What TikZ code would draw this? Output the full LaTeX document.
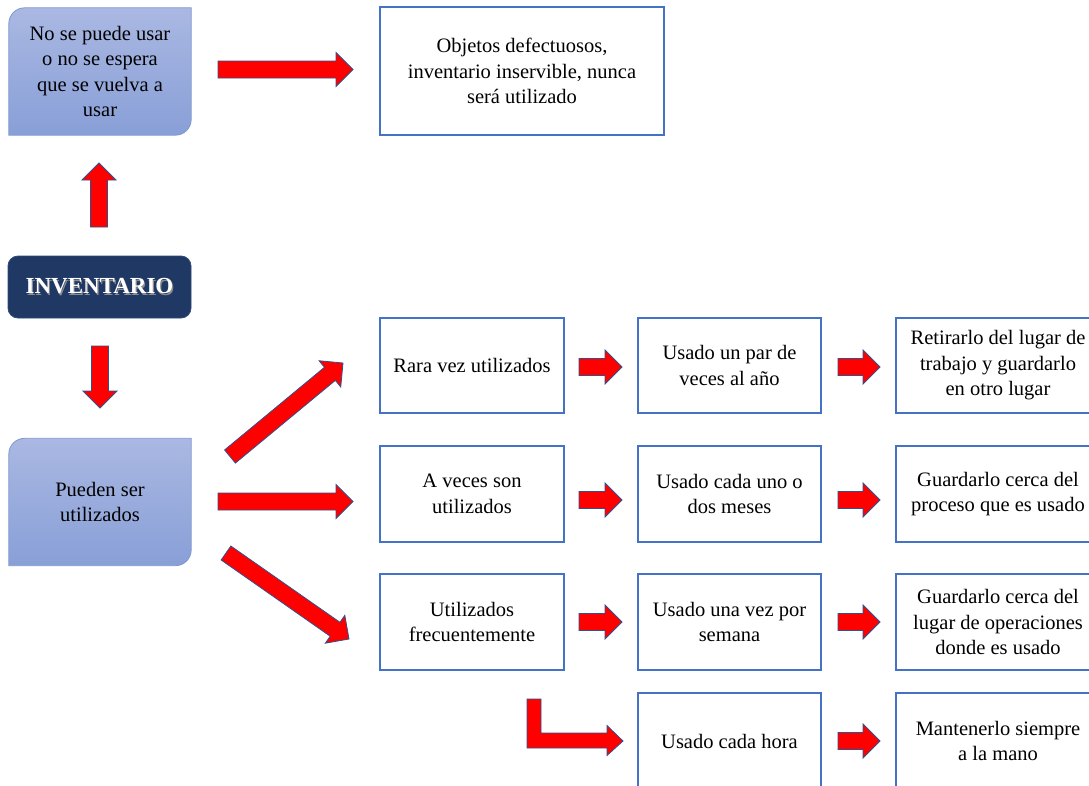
\documentclass[tikz,border=0pt]{standalone}
\usepackage{fontspec}
\setmainfont{Liberation Serif}
\usetikzlibrary{calc,backgrounds}

\definecolor{boxblue}{HTML}{4472C4}
\definecolor{arrowred}{HTML}{FF0000}
\definecolor{arrowedge}{HTML}{2F528F}
\definecolor{navy}{HTML}{203864}
\definecolor{navyedge}{HTML}{2E4A7C}
\definecolor{gradtop}{HTML}{AAB8E2}
\definecolor{gradbot}{HTML}{889FD7}
\definecolor{gradedge}{HTML}{7F98D3}

\newcommand\boxfont{\fontsize{20.5}{25.5}\selectfont}

% block arrow from tail coordinate #1 to tip coordinate #2
\newcommand\blockarrow[2]{%
  \path ($(#2)!17pt!(#1)$) coordinate (ah);
  \draw[redarrow]
    ($(#1)!8.5pt!90:(#2)$) -- ($(ah)!8.5pt!-90:(#1)$) -- ($(ah)!17pt!-90:(#1)$)
    -- (#2) -- ($(ah)!17pt!90:(#1)$) -- ($(ah)!8.5pt!90:(#1)$)
    -- ($(#1)!8.5pt!-90:(#2)$) -- cycle;
}

% soft blue box with two rounded corners (top left, bottom right)
\newcommand\softbox[1]{%
  \shadedraw[top color=gradtop, bottom color=gradbot, draw=gradedge, line width=0.8pt]
    (#1.south west) -- ($(#1.north west)+(0,16)$)
    .. controls ($(#1.north west)+(0,7)$) and ($(#1.north west)+(7,0)$) .. ($(#1.north west)+(16,0)$)
    -- (#1.north east) -- ($(#1.south east)+(0,-16)$)
    .. controls ($(#1.south east)+(0,-7)$) and ($(#1.south east)+(-7,0)$) .. ($(#1.south east)+(-16,0)$)
    -- cycle;
}

\tikzset{
  plainbox/.style={draw=boxblue, line width=1.3pt, fill=white, align=center,
    font=\boxfont, inner sep=0pt, minimum height=96pt},
  col2/.style={plainbox, minimum width=184pt},
  col3/.style={plainbox, minimum width=183pt},
  col4/.style={plainbox, minimum width=204pt},
  softtext/.style={align=center, font=\boxfont, inner sep=0pt,
    minimum width=182pt, minimum height=127pt},
  redarrow/.style={fill=arrowred, draw=arrowedge, line width=0.8pt, line join=miter},
}

\begin{document}
\begin{tikzpicture}[x=1pt, y=-1pt]
\useasboundingbox (0,0) rectangle (1089,785);
\clip (0,0) rectangle (1089,785);

% left column
\node[softtext] (nouse) at (100,71.5) {No se puede usar\\o no se espera\\que se vuelva a\\usar};
\node[softtext] (canuse) at (100,502) {Pueden ser\\utilizados};
\begin{scope}[on background layer]
  \fill[white] (0,0) rectangle (1089,785);
  \softbox{nouse}
  \softbox{canuse}
\end{scope}

\node[draw=navyedge, fill=navy, rounded corners=10pt, line width=0.8pt,
      minimum width=183pt, minimum height=62pt, inner sep=0pt,
      text=white, font=\fontsize{23}{27}\selectfont\bfseries] (inv) at (99.5,287)
  {\rlap{\kern1.2pt\raisebox{-1.2pt}{\color{black!45}INVENTARIO}}INVENTARIO};

% top right box
\node[plainbox, minimum width=284pt, minimum height=128pt] (defect) at (522,71)
  {Objetos defectuosos,\\inventario inservible, nunca\\será utilizado};

% second column
\node[col2, minimum height=95pt] (rare) at (472,365.5) {Rara vez utilizados};
\node[col2] (sometimes) at (472,494) {A veces son\\utilizados};
\node[col2] (often) at (472,622) {Utilizados\\frecuentemente};

% third column
\node[col3, minimum height=95pt] (year) at (729.5,365.5) {Usado un par de\\veces al año};
\node[col3] (months) at (729.5,494) {Usado cada uno o\\dos meses};
\node[col3] (week) at (729.5,622) {Usado una vez por\\semana};
\node[col3] (hour) at (729.5,741) {Usado cada hora};

% fourth column
\node[col4, minimum height=95pt] (away) at (998,365.5) {Retirarlo del lugar de\\trabajo y guardarlo\\en otro lugar};
\node[col4] (process) at (998,494) {Guardarlo cerca del\\proceso que es usado};
\node[col4] (operations) at (998,622) {Guardarlo cerca del\\lugar de operaciones\\donde es usado};
\node[col4] (hand) at (998,741) {Mantenerlo siempre\\a la mano};

% arrow end points
\coordinate (upA) at (99,227);   \coordinate (upB) at (99,163);
\coordinate (dnA) at (100,346);  \coordinate (dnB) at (100,408);
\coordinate (trA) at (218,69.5); \coordinate (trB) at (353,69.5);
\coordinate (mrA) at (218,501.5);\coordinate (mrB) at (353,501.5);
\coordinate (duA) at (230,456.5);\coordinate (duB) at (343,363);
\coordinate (ddA) at (226,553);  \coordinate (ddB) at (349,639);

\blockarrow{upA}{upB}
\blockarrow{dnA}{dnB}
\blockarrow{trA}{trB}
\blockarrow{mrA}{mrB}
\blockarrow{duA}{duB}
\blockarrow{ddA}{ddB}

% short arrows between columns
\foreach \y in {367,500,622} {
  \coordinate (sa) at (579,\y); \coordinate (sb) at (622,\y);
  \blockarrow{sa}{sb}
}
\foreach \y in {367,500,622,741} {
  \coordinate (sa) at (838,\y); \coordinate (sb) at (880,\y);
  \blockarrow{sa}{sb}
}

% bent arrow into the hourly box
\draw[redarrow] (527,699) -- (541,699) -- (541,733) -- (607,733) -- (607,725.5)
  -- (hour.west -| 623,0) -- (607,755.5) -- (607,748) -- (527,748) -- cycle;
\end{tikzpicture}
\end{document}
